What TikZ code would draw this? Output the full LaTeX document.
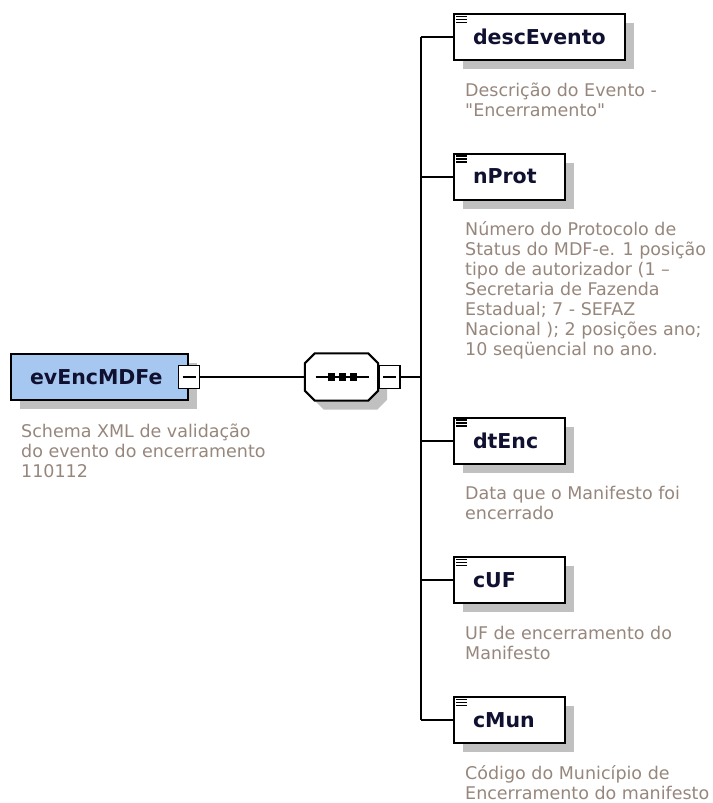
\documentclass[tikz,border=0pt]{standalone}
\usepackage{fontspec}
\setmainfont{DejaVu Sans}
\usetikzlibrary{shapes,shadows,positioning,calc}

\definecolor{rootblue}{RGB}{166,200,240}
\definecolor{shadowgray}{RGB}{192,192,192}
\definecolor{docgray}{RGB}{150,134,124}
\definecolor{labelnavy}{RGB}{16,16,48}

% octagon around a named node, corners cut by 10
\newcommand{\octagonpath}[1]{($(#1.north west)+(10,0)$) -- ($(#1.north east)+(-10,0)$) -- ($(#1.north east)+(0,10)$) -- ($(#1.south east)+(0,-10)$) -- ($(#1.south east)+(-10,0)$) -- ($(#1.south west)+(10,0)$) -- ($(#1.south west)+(0,-10)$) -- ($(#1.north west)+(0,10)$) -- cycle}

\begin{document}
\begin{tikzpicture}[x=1pt, y=-1pt,
    boxshadow/.style={drop shadow={shadow xshift=9pt, shadow yshift=-9pt, fill=shadowgray, opacity=1}},
    elembox/.style={draw, line width=2pt, fill=white, text width=#1, align=left,
        inner xsep=19pt, inner ysep=0pt, minimum height=46pt, text=labelnavy,
        font=\fontsize{20.5}{24}\selectfont\bfseries, boxshadow},
    seqbox/.style={rectangle, minimum width=73pt, minimum height=47pt, inner sep=0pt},
    minusbox/.style={draw, line width=1.6pt, fill=white, minimum width=21pt, minimum height=23pt, inner sep=0pt,
        path picture={\draw[line width=1.6pt] ($(path picture bounding box.west)+(4,0)$) -- ($(path picture bounding box.east)+(-4,0)$);}},
    doc/.style={align=left, inner sep=0pt, text=docgray, font=\fontsize{17.5}{20}\selectfont},
    conn/.style={line width=2pt}]

    \useasboundingbox (0,0) rectangle (712,803);

    % Root element
    \node[elembox=139pt, fill=rootblue] (root) at (99.5,377) {evEncMDFe};
    \node[minusbox] (rootmin) at (root.east) {};
    \node[doc, anchor=base west] (root-doc) at ($(root.south west)+(11,76)$)
        {Schema XML de validação\\do evento do encerramento\\110112};

    % Sequence
    \node[seqbox] (seq-shadow) at (350.5,386) {};
    \node[seqbox] (seq) at (341.5,377) {};
    \fill[shadowgray] \octagonpath{seq-shadow};
    \filldraw[conn, fill=white] \octagonpath{seq};
    \draw[conn] ($(seq.center)+(-26,0)$) -- ($(seq.center)+(27,0)$);
    \foreach \dx in {-10,1,12}
        \fill ($(seq.center)+(\dx,0)$) +(-3.5,-4) rectangle +(3.5,4);
    \node[minusbox, right=0pt of seq] (seqmin) {};
    \coordinate (hub) at (421,377);

    % Child elements
    \node[elembox=133pt, anchor=west] (descEvento) at (453,37) {descEvento};
    \node[elembox=73pt, anchor=west] (nProt) at (453,176.5) {nProt};
    \node[elembox=73pt, anchor=west] (dtEnc) at (453,440.5) {dtEnc};
    \node[elembox=73pt, anchor=west] (cUF) at (453,580) {cUF};
    \node[elembox=73pt, anchor=west] (cMun) at (453,720) {cMun};

    % Icons in the corner of the boxes
    \foreach \kid in {descEvento,nProt,dtEnc,cUF,cMun}
        \foreach \dy in {3.5,6.5,9.5}
            \draw[line width=1.2pt] ($(\kid.north west)+(3,\dy)$) -- +(11,0);

    % Descriptions (anchored at the last line)
    \node[doc, anchor=base west] (descEvento-doc) at ($(descEvento.south west)+(12,55)$)
        {Descrição do Evento -\\\textquotedbl Encerramento\textquotedbl};
    \node[doc, anchor=base west] (nProt-doc) at ($(nProt.south west)+(12,155)$)
        {Número do Protocolo de\\Status do MDF-e. 1 posição\\tipo de autorizador (1 –\\Secretaria de Fazenda\\Estadual; 7 - SEFAZ\\Nacional ); 2 posições ano;\\10 seqüencial no ano.};
    \node[doc, anchor=base west] (dtEnc-doc) at ($(dtEnc.south west)+(12,55)$)
        {Data que o Manifesto foi\\encerrado};
    \node[doc, anchor=base west] (cUF-doc) at ($(cUF.south west)+(12,55)$)
        {UF de encerramento do\\Manifesto};
    \node[doc, anchor=base west] (cMun-doc) at ($(cMun.south west)+(12,55)$)
        {Código do Município de\\Encerramento do manifesto};

    % Connectors
    \draw[conn] (rootmin) -- (seq);
    \draw[conn] (seqmin) -- (hub);
    \draw[conn] (descEvento.west -| hub) -- (cMun.west -| hub);
    \foreach \kid in {descEvento,nProt,dtEnc,cUF,cMun}
        \draw[conn] (\kid.west -| hub) -- (\kid.west);
\end{tikzpicture}
\end{document}
